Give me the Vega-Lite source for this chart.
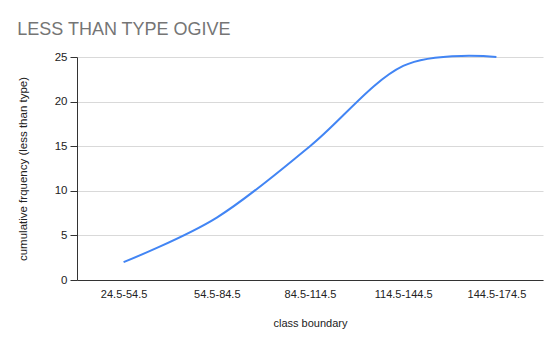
{
  "$schema": "https://vega.github.io/schema/vega-lite/v6.json",
  "width": 466,
  "height": 223,
  "autosize": {"type": "none"},
  "padding": {"left": 77, "top": 57, "right": 17, "bottom": 66},
  "background": "white",
  "title": {
    "text": "LESS THAN TYPE OGIVE",
    "anchor": "start",
    "dx": 0,
    "offset": 12,
    "font": "Liberation Sans",
    "fontSize": 18,
    "fontWeight": "normal",
    "color": "#757575"
  },
  "data": {
    "values": [
      {"class": "24.5-54.5", "cf": 2},
      {"class": "54.5-84.5", "cf": 7},
      {"class": "84.5-114.5", "cf": 15},
      {"class": "114.5-144.5", "cf": 24},
      {"class": "144.5-174.5", "cf": 25}
    ]
  },
  "mark": {"type": "line", "interpolate": "cardinal", "color": "#4285f4", "strokeWidth": 2},
  "encoding": {
    "x": {
      "field": "class",
      "type": "ordinal",
      "sort": null,
      "scale": {"type": "point", "padding": 0.5},
      "axis": {
        "title": "class boundary",
        "labelAngle": 0,
        "ticks": false,
        "labelPadding": 8,
        "titlePadding": 18,
        "labelFont": "Liberation Sans",
        "labelFontSize": 11,
        "labelColor": "#222222",
        "titleFont": "Liberation Sans",
        "titleFontSize": 11,
        "titleFontWeight": "normal",
        "titleColor": "#222222",
        "domainColor": "#333333",
        "domainWidth": 1,
        "grid": false
      }
    },
    "y": {
      "field": "cf",
      "type": "quantitative",
      "scale": {"domain": [0, 25], "nice": false},
      "axis": {
        "title": "cumulative frquency (less than type)",
        "values": [0, 5, 10, 15, 20, 25],
        "tickSize": 7,
        "tickColor": "#333333",
        "labelPadding": 3,
        "titlePadding": 26,
        "labelFont": "Liberation Sans",
        "labelFontSize": 11.5,
        "labelColor": "#222222",
        "titleFont": "Liberation Sans",
        "titleFontSize": 11.5,
        "titleFontWeight": "normal",
        "titleColor": "#222222",
        "domainColor": "#333333",
        "gridColor": "#d9d9d9",
        "gridWidth": 1
      }
    }
  },
  "config": {"view": {"stroke": null}}
}
